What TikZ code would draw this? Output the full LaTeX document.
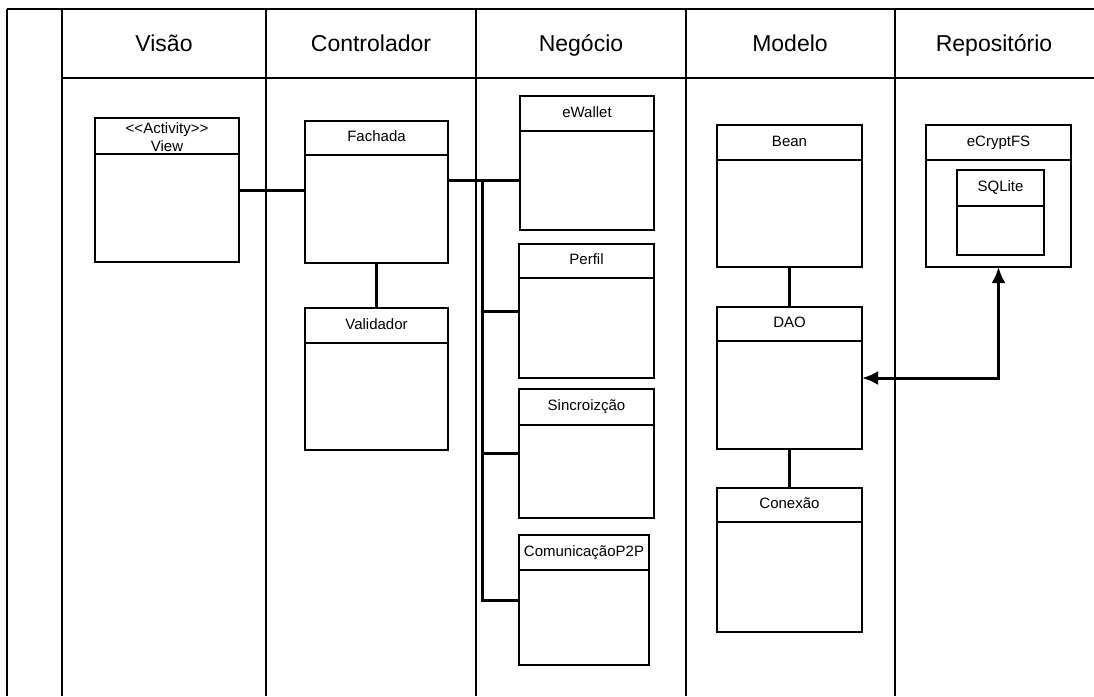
\documentclass[tikz,border=0pt]{standalone}
\usepackage{fontspec}
\setmainfont{Liberation Sans}
\usetikzlibrary{arrows.meta}

% A UML class box: name, left, top, right, bottom, header bottom, label
\newcommand{\classbox}[7]{%
  \node[classbody, anchor=north west,
        minimum width={(#4-#2)*1pt}, minimum height={(#5-#3)*1pt}] (#1) at (#2,#3) {};
  \draw[classline] (#2,#6) -- (#4,#6);
  \node[classlabel] (#1-title) at ({(#2+#4)/2},{(#3+#6)/2}) {\strut #7};
}

\begin{document}
\begin{tikzpicture}[x=1pt, y=-1pt,
  lane/.style={line width=2.2pt},
  lanehead/.style={font=\fontsize{23}{27}\selectfont, inner sep=0pt, anchor=base},
  classbody/.style={draw, line width=1.4pt, fill=white, inner sep=0pt, outer sep=0pt},
  classline/.style={line width=1.4pt},
  classlabel/.style={font=\fontsize{15}{18}\selectfont, align=center, inner sep=0pt},
  conn/.style={line width=3pt},
  twoway/.style={conn, {Latex[length=16pt,width=14pt]}-{Latex[length=16pt,width=14pt]}}]

\useasboundingbox (0,0) rectangle (1094,696);

% swimlane frame
\draw[lane] (7,9) -- (1094,9);
\draw[lane] (62,78) -- (1094,78);
\foreach \x in {7,62,266,476,686,895}
  \draw[lane] (\x,9) -- (\x,696);

% lane titles
\node[lanehead] (visao) at (164,51) {Visão};
\node[lanehead] (controlador) at (371,51) {Controlador};
\node[lanehead] (negocio) at (581,51) {Negócio};
\node[lanehead] (modelo) at (790,51) {Modelo};
\node[lanehead] (repositorio) at (994,51) {Repositório};

% Visão
\classbox{view}{95}{118}{239}{262}{154}{<\kern0pt<Activity>\kern0pt>\\View}

% Controlador
\classbox{fachada}{305}{121}{448}{263}{155}{Fachada}
\classbox{validador}{305}{308}{448}{450}{343}{Validador}

% Negócio
\classbox{ewallet}{520}{96}{654}{230}{131}{eWallet}
\classbox{perfil}{519}{244}{654}{378}{278}{Perfil}
\classbox{sincro}{519}{389}{654}{518}{425}{Sincroizção}
\classbox{comunic}{519}{535}{649}{665}{570}{ComunicaçãoP2P}

% Modelo
\classbox{bean}{717}{125}{862}{267}{160}{Bean}
\classbox{dao}{717}{307}{862}{449}{341}{DAO}
\classbox{conexao}{717}{488}{862}{632}{522}{Conexão}

% Repositório
\classbox{ecrypt}{926}{125}{1071}{267}{160}{eCryptFS}
\classbox{sqlite}{957}{170}{1044}{255}{206}{SQLite}

% connectors
\coordinate (bus) at (482,180);
\draw[conn] (view.east) -- (view.east -| fachada.west);
\draw[conn] (fachada.east |- bus) -- (ewallet.west |- bus);
\draw[conn] (bus) |- (comunic.west);
\draw[conn] (bus |- perfil.west) -- (perfil.west);
\draw[conn] (bus |- sincro.west) -- (sincro.west);
\draw[conn] (fachada.south) -- (validador.north);
\draw[conn] (bean.south) -- (dao.north);
\draw[conn] (dao.south) -- (conexao.north);
\draw[twoway] (dao.east) -| (ecrypt.south);

\end{tikzpicture}
\end{document}
